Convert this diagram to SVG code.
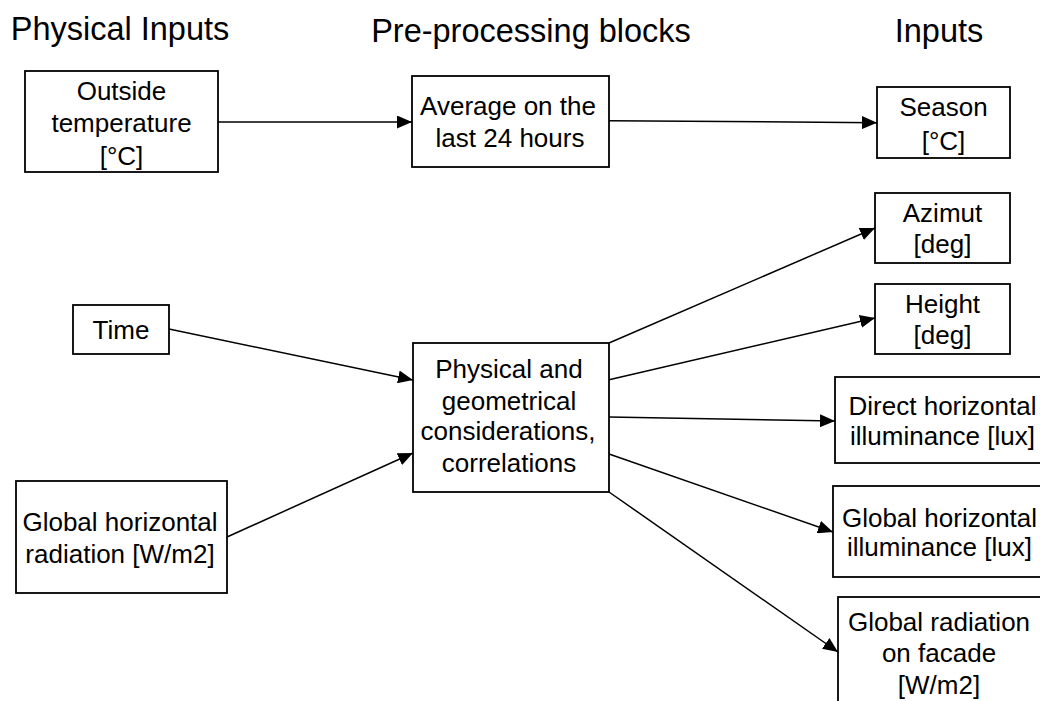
<svg xmlns="http://www.w3.org/2000/svg" width="1040" height="701" viewBox="0 0 1040 701">
<style>
.box{fill:#fff;stroke:#000;stroke-width:1.8}
.t{font-family:"Liberation Sans",Arial,sans-serif;font-size:26px;fill:#000;text-anchor:middle}
.h{font-family:"Liberation Sans",Arial,sans-serif;font-size:32.5px;fill:#000;text-anchor:middle}
.c{stroke:#000;stroke-width:1.5;fill:none;marker-end:url(#ah)}
</style>
<defs>
<marker id="ah" markerWidth="15" markerHeight="13" refX="15" refY="6.5" orient="auto" markerUnits="userSpaceOnUse">
<path d="M0,0 L15,6.5 L0,13 Z" fill="#000"/>
</marker>
</defs>
<rect width="1040" height="701" fill="#fff"/>
<g id="titles">
<text class="h" x="120" y="40">Physical Inputs</text>
<text class="h" x="531" y="42">Pre-processing blocks</text>
<text class="h" x="939" y="42">Inputs</text>
</g>
<g id="connectors">
<line class="c" x1="218" y1="122" x2="412" y2="122"/>
<line class="c" x1="609" y1="120.7" x2="877" y2="122.7"/>
<line class="c" x1="169" y1="329" x2="413" y2="380"/>
<line class="c" x1="227" y1="537" x2="413" y2="453"/>
<line class="c" x1="609" y1="343" x2="875" y2="228"/>
<line class="c" x1="608" y1="380" x2="875" y2="318"/>
<line class="c" x1="609" y1="417" x2="835" y2="421"/>
<line class="c" x1="609" y1="454" x2="833" y2="532"/>
<line class="c" x1="609" y1="492" x2="838" y2="652"/>
</g>
<g id="outside-temperature">
<rect class="box" x="25" y="71" width="193" height="101"/>
<text class="t" x="121.5" y="100">Outside</text>
<text class="t" x="121.5" y="132">temperature</text>
<text class="t" x="121.5" y="165">[°C]</text>
</g>
<g id="time">
<rect class="box" x="73" y="305" width="96" height="49"/>
<text class="t" x="121" y="339">Time</text>
</g>
<g id="global-horizontal-radiation">
<rect class="box" x="16" y="481" width="211" height="112"/>
<text class="t" x="120" y="531">Global horizontal</text>
<text class="t" x="120" y="563">radiation [W/m2]</text>
</g>
<g id="average">
<rect class="box" x="412" y="76" width="197" height="91"/>
<text class="t" x="508" y="115">Average on the</text>
<text class="t" x="510" y="147">last 24 hours</text>
</g>
<g id="physical">
<rect class="box" x="413" y="343" width="196" height="149"/>
<text class="t" x="509" y="378">Physical and</text>
<text class="t" x="509" y="410">geometrical</text>
<text class="t" x="508" y="440">considerations,</text>
<text class="t" x="509" y="472">correlations</text>
</g>
<g id="season">
<rect class="box" x="877" y="87" width="133" height="71"/>
<text class="t" x="943.5" y="116">Season</text>
<text class="t" x="943.5" y="150">[°C]</text>
</g>
<g id="azimut">
<rect class="box" x="875" y="193" width="135" height="70"/>
<text class="t" x="942.5" y="222">Azimut</text>
<text class="t" x="942.5" y="253">[deg]</text>
</g>
<g id="height">
<rect class="box" x="875" y="284" width="135" height="70"/>
<text class="t" x="942.5" y="313">Height</text>
<text class="t" x="942.5" y="344">[deg]</text>
</g>
<g id="direct-horizontal-illuminance">
<rect class="box" x="835" y="377" width="215" height="86"/>
<text class="t" x="942.5" y="415">Direct horizontal</text>
<text class="t" x="942.5" y="445">illuminance [lux]</text>
</g>
<g id="global-horizontal-illuminance">
<rect class="box" x="833" y="486" width="215" height="91"/>
<text class="t" x="939.5" y="527">Global horizontal</text>
<text class="t" x="939.5" y="556">illuminance [lux]</text>
</g>
<g id="global-radiation-facade">
<rect class="box" x="838" y="597" width="210" height="120"/>
<text class="t" x="939" y="631">Global radiation</text>
<text class="t" x="939" y="662">on facade</text>
<text class="t" x="939" y="694">[W/m2]</text>
</g>
</svg>
